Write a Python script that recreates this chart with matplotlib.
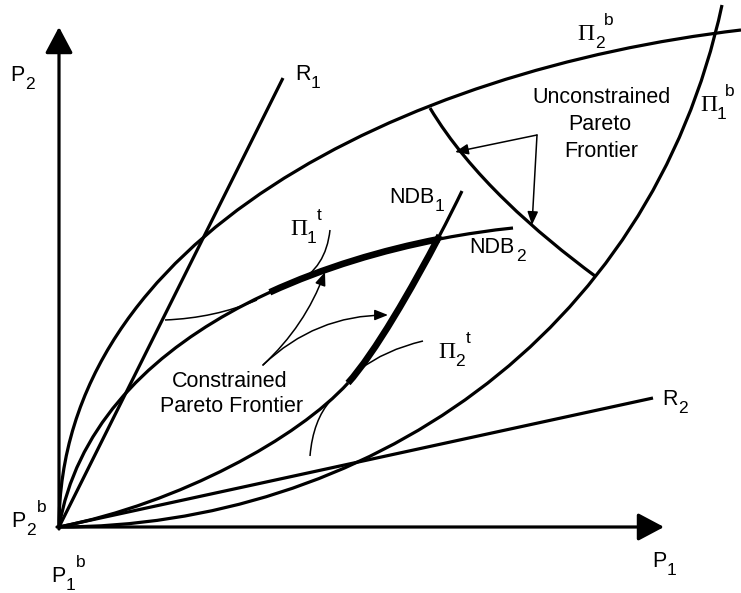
import numpy as np
import matplotlib.pyplot as plt
from matplotlib.path import Path
from matplotlib.patches import PathPatch, FancyArrowPatch, ArrowStyle

W, H = 741, 593

# cubic Bezier control points (pixel coords, y down)
pi2_b = [(59, 527), (59, 240), (400, 70), (741, 30)]
pi1_b = [(59, 527), (360, 527), (650, 340), (722, 5)]
ndb1_low = [(59, 527), (180, 503), (298, 438), (348, 383)]
ndb1_up = [(348, 383), (383, 344), (437, 243), (462, 191)]
ndb2 = [(59, 527), (92, 335), (330, 247), (513, 228)]
unconstrained = [(430, 108), (470, 175), (537, 233), (595, 276)]
r1 = [(59, 527), (283, 78)]
r2 = [(59, 527), (653, 398)]

# parameter ranges of the thick (constrained Pareto) parts
ndb1_thick_t = (0.0, 0.76)
ndb2_thick_t = (0.575, 0.87)

# thin iso-profit pieces: start, control, end
pi1_t = [(330, 230), (326, 268), (296, 283)]
pi2_t = [(423, 341), (385, 350), (359, 370)]
thin_left = [(165, 320), (215, 318), (257, 300)]
thin_low = [(310, 456), (313, 420), (331, 400)]


def split(c, t):
    p = np.asarray(c, float)
    left, right = [p[0]], [p[-1]]
    while len(p) > 1:
        p = p[:-1] * (1 - t) + p[1:] * t
        left.append(p[0])
        right.append(p[-1])
    return np.array(left), np.array(right[::-1])


def piece(c, t0, t1):
    _, right = split(c, t0)
    left, _ = split(right, (t1 - t0) / (1 - t0))
    return left


fig = plt.figure(figsize=(W / 100, H / 100), dpi=100)
ax = fig.add_axes([0, 0, 1, 1])
ax.set_xlim(0, W)
ax.set_ylim(H, 0)
ax.axis('off')


def bez(c, lw):
    code = Path.CURVE4 if len(c) == 4 else Path.CURVE3
    path = Path(c, [Path.MOVETO] + [code] * (len(c) - 1))
    ax.add_patch(PathPatch(path, fill=False, lw=lw, ec='black',
                           capstyle='butt'))


for c in [pi2_b, pi1_b, ndb1_low, ndb1_up, ndb2, unconstrained]:
    bez(c, 2.3)
bez(piece(ndb1_up, *ndb1_thick_t), 4.8)
bez(piece(ndb2, *ndb2_thick_t), 4.8)
for c in [pi1_t, pi2_t, thin_left, thin_low]:
    bez(c, 1.1)
for ln in [r1, r2]:
    xs, ys = zip(*ln)
    ax.plot(xs, ys, color='black', lw=2.3, solid_capstyle='butt')

# axes with arrow heads
big = ArrowStyle('-|>', head_length=16, head_width=8.5)
for a, b in [((59, 529), (59, 27)), ((57, 527), (664, 527))]:
    ax.add_patch(FancyArrowPatch(a, b, arrowstyle=big, mutation_scale=1,
                                 lw=2.3, color='black', shrinkA=0, shrinkB=0))

# pointer arrows
small = ArrowStyle('-|>', head_length=8, head_width=3.2)
pointers = [((537, 135), (455, 152), 0.0), ((537, 135), (532, 225), 0.0),
            ((263, 365), (325, 272), 0.12), ((263, 365), (388, 315), -0.2)]
for a, b, rad in pointers:
    ax.add_patch(FancyArrowPatch(a, b, arrowstyle=small, mutation_scale=1,
                                 lw=1.1, color='black', shrinkA=0, shrinkB=0,
                                 connectionstyle=f'arc3,rad={rad}'))

sans = 'Liberation Sans'
serif = 'Liberation Serif'


def txt(x, y, s, size=15.5, fam=sans, ha='left'):
    ax.text(x, y, s, fontsize=size, family=fam, ha=ha, va='baseline',
            color='black')


def label(x, y, main, sub, sup=None, big_serif=False, sub_dx=15, sup_dx=None):
    if big_serif:
        txt(x, y, main, size=17, fam=serif)
    else:
        txt(x, y, main)
    txt(x + sub_dx, y + 8, sub, size=12.5)
    if sup is not None:
        txt(x + sup_dx, y - 15, sup, size=12.5)


label(10, 81, 'P', '2')
label(295, 80, 'R', '1', sub_dx=16)
label(11, 527, 'P', '2', 'b', sup_dx=26)
label(51, 582, 'P', '1', 'b', sup_dx=25)
label(652, 567, 'P', '1')
label(662, 405, 'R', '2', sub_dx=16)
label(389, 203, 'NDB', '1', sub_dx=46)
label(469, 253, 'NDB', '2', sub_dx=47)
label(577, 40, '\u03a0', '2', 'b', big_serif=True, sub_dx=18, sup_dx=27)
label(700, 111, '\u03a0', '1', 'b', big_serif=True, sub_dx=17, sup_dx=25)
label(290, 235, '\u03a0', '1', 't', big_serif=True, sub_dx=17, sup_dx=27)
label(438, 358, '\u03a0', '2', 't', big_serif=True, sub_dx=17, sup_dx=28)

txt(602, 103, 'Unconstrained', ha='center')
txt(600, 130, 'Pareto', ha='center')
txt(601, 157, 'Frontier', ha='center')
txt(230, 387, 'Constrained', ha='center')
txt(232, 412, 'Pareto Frontier', ha='center')

fig.savefig('out.png', dpi=100, facecolor='white')
